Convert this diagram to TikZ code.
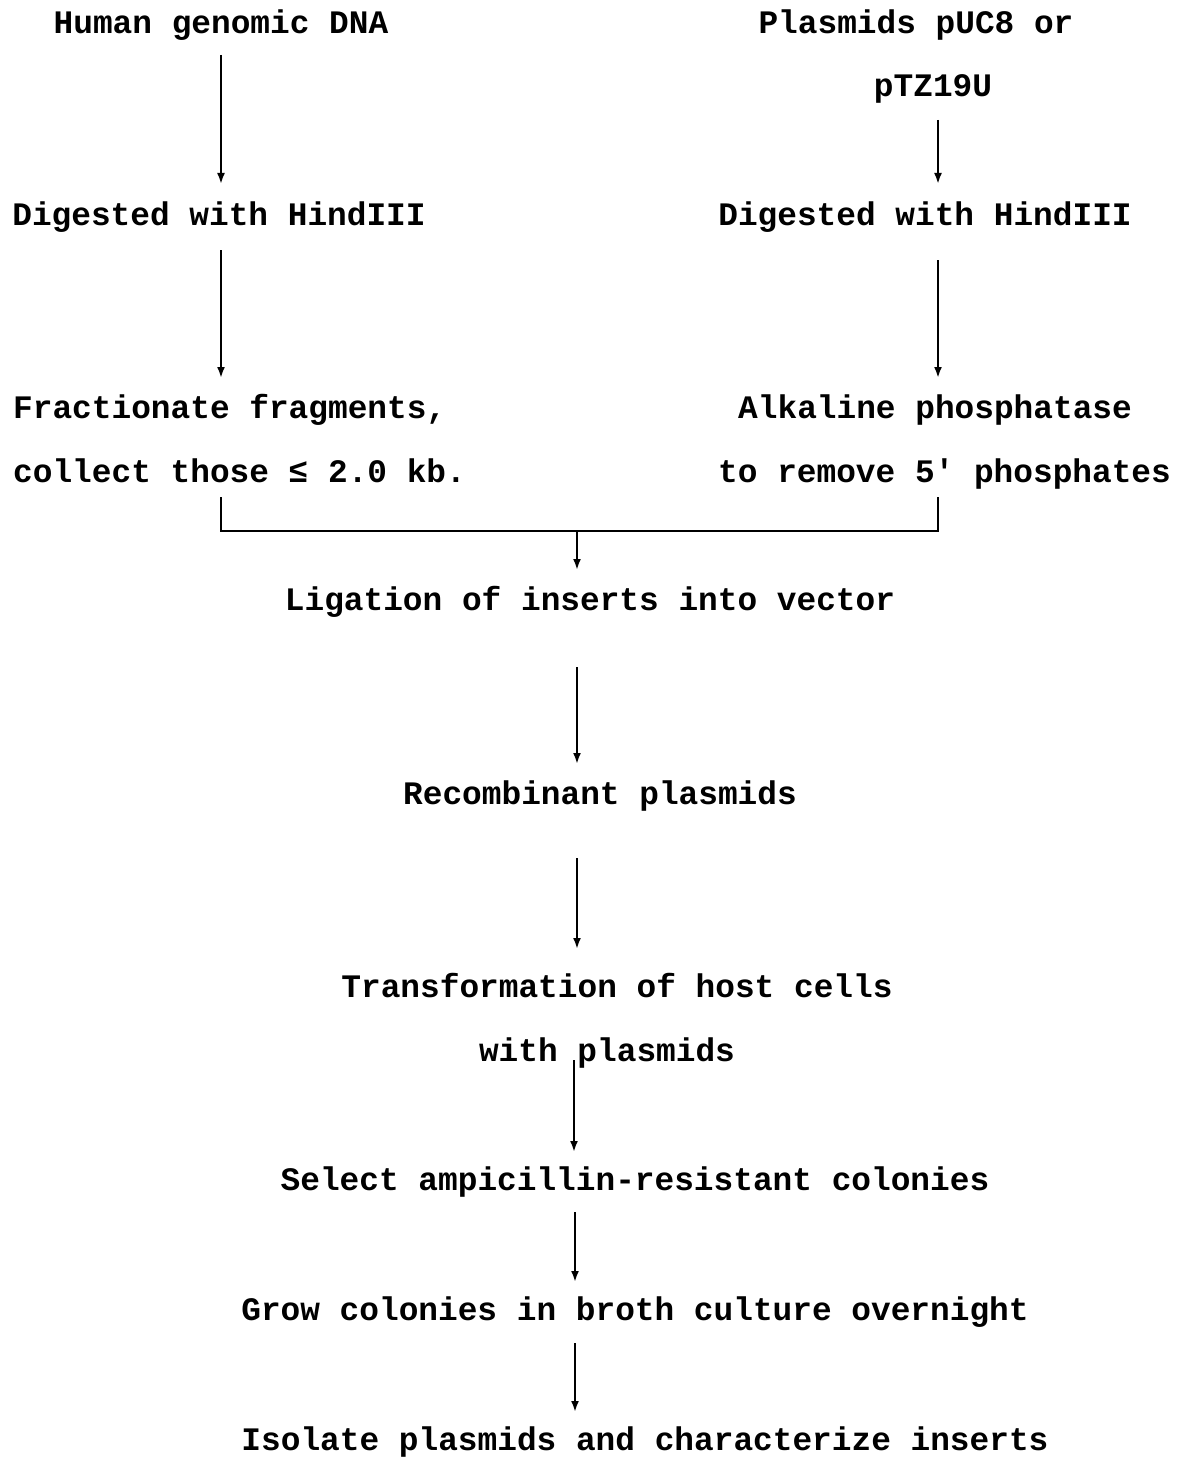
\documentclass[tikz,border=0pt]{standalone}
\usepackage{fontspec}
\setmainfont{Liberation Mono}[Ligatures=TeXOff]
\usetikzlibrary{arrows.meta}
\begin{document}
\begin{tikzpicture}[x=1bp,y=-1bp,
  lbl/.style={inner sep=0pt,anchor=base,font=\fontsize{32.8bp}{38bp}\selectfont\bfseries},
  lblw/.style={lbl,anchor=base west},
  conn/.style={line width=2.6bp,-{Latex[length=11bp,width=8bp]}},
  brk/.style={line width=2.6bp}]
\useasboundingbox (0,0) rectangle (1179,1457);
\node[lbl] (h) at (221,34) {Human genomic DNA};
\node[lbl] (p1) at (916,34) {Plasmids pUC8 or};
\node[lbl] (p2) at (933,97) {pTZ19U};
\node[lbl] (dl) at (219,225) {Digested with HindIII};
\node[lbl] (dr) at (925,225) {Digested with HindIII};
\node[lblw] (f1) at (13,418) {Fractionate fragments,};
\node[lblw] (f2) at (13,482) {collect those ≤ 2.0 kb.};
\node[lblw] (a1) at (738,418) {Alkaline phosphatase};
\node[lblw] (a2) at (718,482) {to remove 5' phosphates};
\node[lbl] (lig) at (590,610) {Ligation of inserts into vector};
\node[lbl] (rec) at (600,804) {Recombinant plasmids};
\node[lbl] (tr1) at (617,997) {Transformation of host cells};
\node[lbl] (tr2) at (607,1061) {with plasmids};
\node[lbl] (sel) at (635,1190) {Select ampicillin-resistant colonies};
\node[lbl] (grow) at (635,1320) {Grow colonies in broth culture overnight};
\node[lbl] (iso) at (645,1450) {Isolate plasmids and characterize inserts};
% arrows
\coordinate (a1s) at (221,55); \coordinate (a1e) at (221,184);
\draw[conn] (a1s) -- (a1e);
\coordinate (b1s) at (938,120); \coordinate (b1e) at (938,184);
\draw[conn] (b1s) -- (b1e);
\coordinate (a2s) at (221,250); \coordinate (a2e) at (221,378);
\draw[conn] (a2s) -- (a2e);
\coordinate (b2s) at (938,260); \coordinate (b2e) at (938,378);
\draw[conn] (b2s) -- (b2e);
% bracket
\coordinate (bl) at (221,497); \coordinate (br) at (938,497);
\coordinate (bm) at (577,531);
\draw[brk] (bl) |- (br |- bm) -- (br);
\coordinate (lige) at (577,570);
\draw[conn] (bm) -- (lige);
\coordinate (c1s) at (577,667); \coordinate (c1e) at (577,764);
\draw[conn] (c1s) -- (c1e);
\coordinate (c2s) at (577,858); \coordinate (c2e) at (577,949);
\draw[conn] (c2s) -- (c2e);
\coordinate (c3s) at (574,1060); \coordinate (c3e) at (574,1152);
\draw[conn] (c3s) -- (c3e);
\coordinate (c4s) at (575,1212); \coordinate (c4e) at (575,1282);
\draw[conn] (c4s) -- (c4e);
\coordinate (c5s) at (575,1343); \coordinate (c5e) at (575,1412);
\draw[conn] (c5s) -- (c5e);
\end{tikzpicture}
\end{document}
